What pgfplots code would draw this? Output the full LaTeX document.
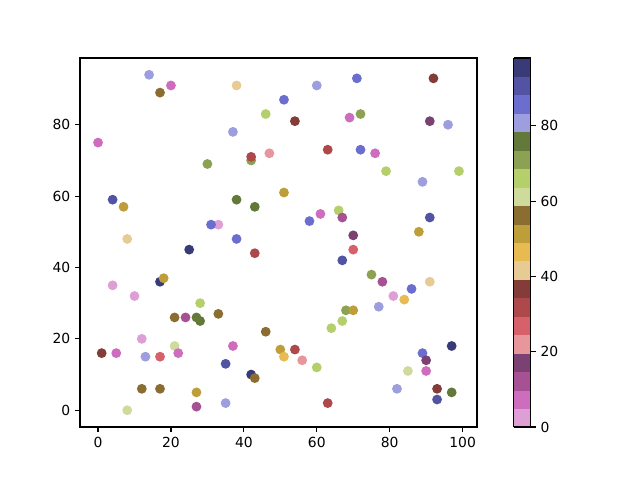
\documentclass[border=0pt]{standalone}
\usepackage{pgfplots}
\pgfplotsset{compat=1.18}
\usepackage{pgfplotstable}
\usepackage{fontspec}
\setmainfont{DejaVu Sans}
\pgfplotstableread{
x y c
14 94 81
20 91 7
17 89 56
38 91 42
46 83 66
37 78 81
0 75 7
42 70 71
42 71 32
47 72 22
30 69 71
4 59 91
7 57 51
38 59 76
43 57 76
33 52 2
31 52 86
8 48 42
38 48 86
51 61 51
60 91 81
71 93 86
92 93 37
51 87 86
54 81 37
69 82 7
72 83 71
91 81 17
96 80 81
63 73 32
72 73 86
76 72 7
79 67 66
99 67 66
89 64 81
61 55 7
66 56 66
67 54 12
58 53 86
91 54 91
70 49 17
88 50 51
25 45 96
43 44 32
17 36 96
18 37 51
4 35 2
10 32 2
28 30 66
33 27 56
21 26 56
24 26 12
27 26 76
28 25 76
46 22 56
12 20 2
1 16 37
5 16 7
13 15 81
17 15 27
21 18 61
22 16 7
37 18 7
50 17 51
35 13 91
42 10 96
43 9 56
12 6 56
17 6 56
27 5 51
27 1 12
35 2 81
8 0 61
70 45 27
67 42 91
75 38 71
78 36 12
86 34 86
91 36 42
81 32 2
84 31 47
77 29 81
68 28 71
70 28 51
67 25 66
64 23 66
51 15 47
54 17 32
56 14 22
60 12 66
63 2 32
97 18 96
89 16 86
90 14 17
90 11 7
85 11 61
82 6 81
93 6 37
97 5 76
93 3 91
}\data
\begin{document}
\begin{tikzpicture}
\useasboundingbox (-57.6pt,-38.16pt) rectangle (403.2pt,307.44pt);
\begin{axis}[
  at={(0,0)}, anchor=south west,
  scale only axis, width=285.84pt, height=265.68pt,
  xmin=-4.95, xmax=103.95, ymin=-4.7, ymax=98.7,
  xtick={0,20,...,100}, ytick={0,20,...,80},
  tick align=outside, xtick pos=bottom, ytick pos=left,
  major tick length=3.5pt,
  every tick/.style={line width=0.8pt, black},
  axis line style={line width=0.8pt},
  tick label style={font=\fontsize{10}{12}\selectfont},
  /pgf/number format/assume math mode=true,
  xticklabel style={yshift=-0.5pt},
  colormap access=piecewise constant,
  colormap={tabb}{
    rgb255=(222,158,214) rgb255=(206,109,189) rgb255=(165,81,148) rgb255=(123,65,115)
    rgb255=(231,150,156) rgb255=(214,97,107) rgb255=(173,73,74) rgb255=(132,60,57)
    rgb255=(231,203,148) rgb255=(231,186,82) rgb255=(189,158,57) rgb255=(140,109,49)
    rgb255=(206,219,156) rgb255=(181,207,107) rgb255=(140,162,82) rgb255=(99,121,57)
    rgb255=(156,158,222) rgb255=(107,110,207) rgb255=(82,84,163) rgb255=(57,59,121)},
  point meta min=0, point meta max=98,
  colorbar,
  colorbar style={
    at={(parent axis.north east)}, anchor=north west, xshift=18pt,
    scale only axis, width=12.24pt, height=265.68pt,
    ytick={0,20,...,80}, tick align=outside, ytick pos=right, yticklabel pos=right,
    major tick length=3.5pt,
    every tick/.style={line width=0.8pt, black},
    axis line style={line width=0.8pt},
    tick label style={font=\fontsize{10}{12}\selectfont},
    /pgf/number format/assume math mode=true,
  },
]
\addplot[scatter, only marks, mark=*, mark size=3pt, scatter src=explicit,
  mark options={line width=1pt},
  scatter/use mapped color={draw=mapped color, fill=mapped color}]
  table[x=x, y=y, meta=c] {\data};
\end{axis}
\end{tikzpicture}
\end{document}
